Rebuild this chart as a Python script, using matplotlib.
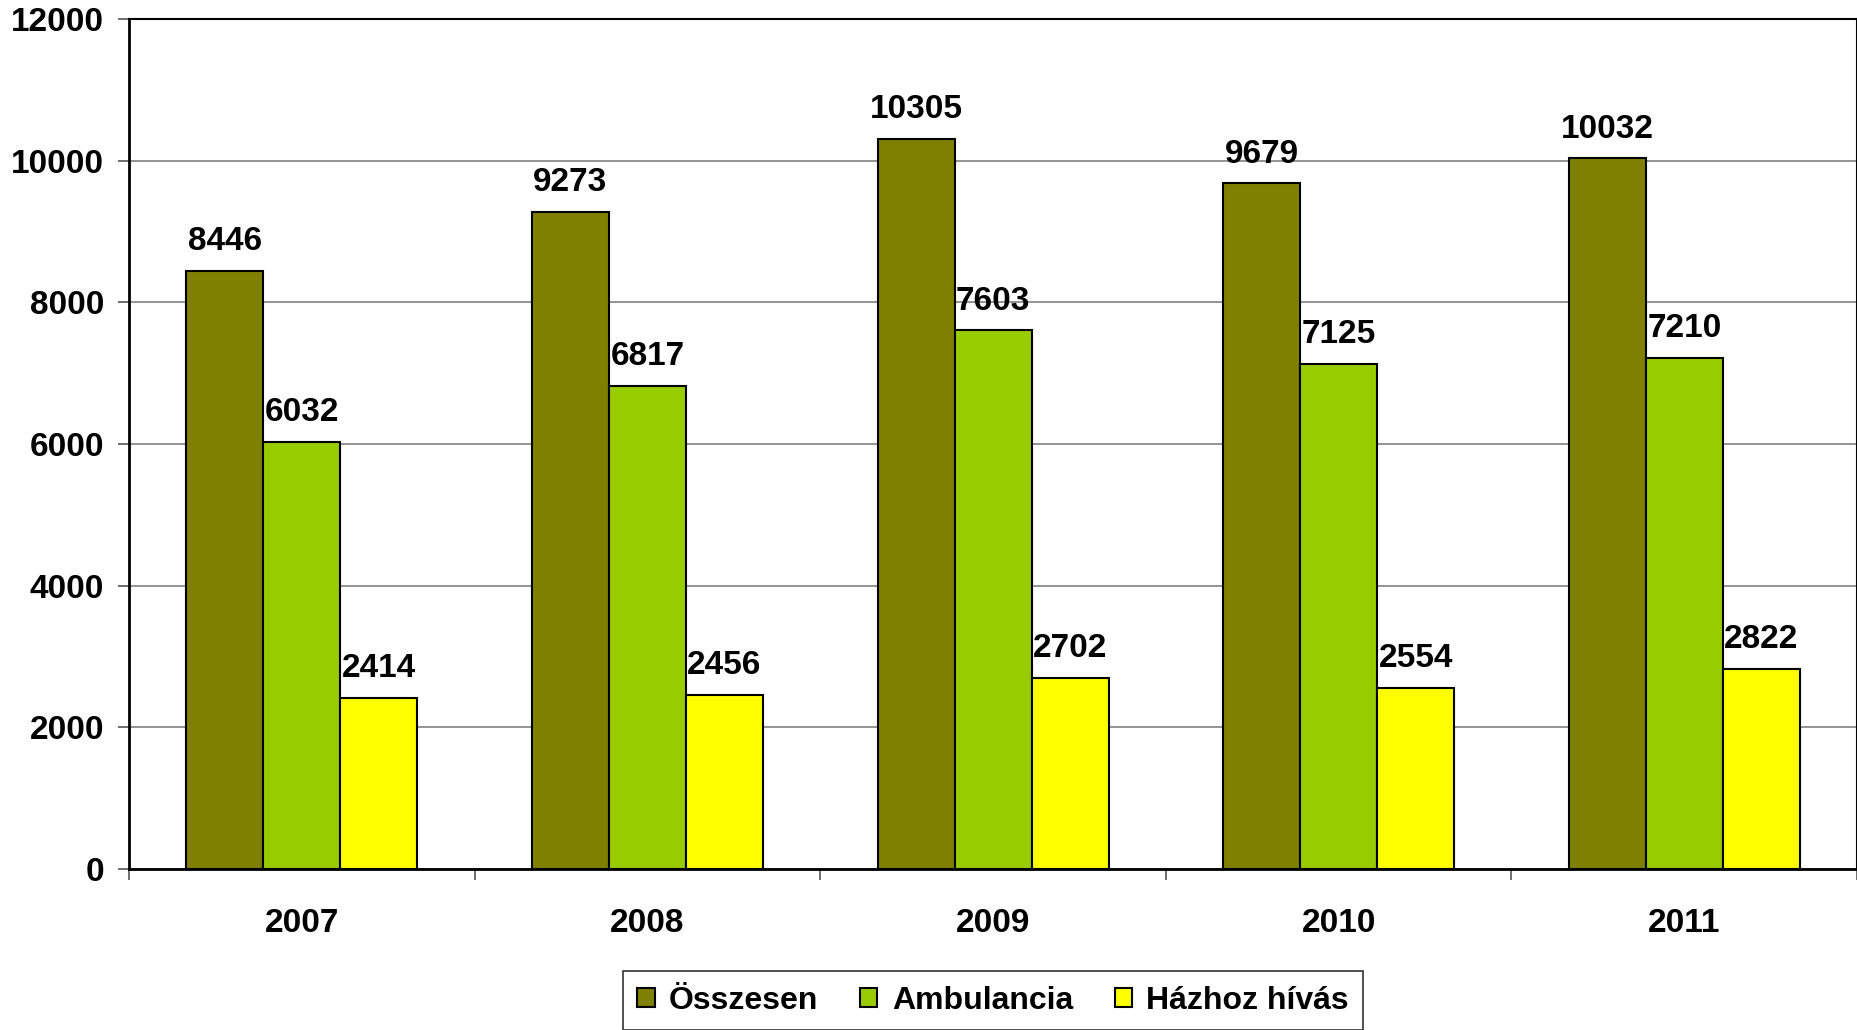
import matplotlib.pyplot as plt
import numpy as np

plt.rcParams["font.family"] = ["Liberation Sans", "DejaVu Sans"]
plt.rcParams["font.weight"] = "bold"

years = ["2007", "2008", "2009", "2010", "2011"]
series_names = ["Összesen", "Ambulancia", "Házhoz hívás"]
osszesen = [8446, 9273, 10305, 9679, 10032]
ambulancia = [6032, 6817, 7603, 7125, 7210]
hazhoz = [2414, 2456, 2702, 2554, 2822]
colors = ["#808000", "#99CC00", "#FFFF00"]

fig = plt.figure(figsize=(18.58, 10.30), dpi=100)
ax = fig.add_axes([0.0694, 0.1563, 0.9301, 0.8253])

x = np.arange(len(years))
width = 0.2228
for i, (vals, name, col) in enumerate(zip([osszesen, ambulancia, hazhoz], series_names, colors)):
    pos = x + (i - 1) * width
    ax.bar(pos, vals, width, color=col, edgecolor="black", linewidth=1.5,
           label=name, zorder=3)
    for px, v in zip(pos, vals):
        ax.annotate(str(v), (px, v), xytext=(0, 15), textcoords="offset points",
                    ha="center", va="baseline", fontsize=24, fontweight="bold")

ax.set_xlim(-0.5, len(years) - 0.5)
ax.set_ylim(0, 12000)
ax.set_yticks(np.arange(0, 12001, 2000))
ax.tick_params(axis="y", labelsize=24, length=8, width=1.2, pad=10, color="#555555")
ax.grid(axis="y", color="#808080", linewidth=1.2, zorder=0)

ax.set_xticks(x)
ax.set_xticklabels(years)
ax.tick_params(axis="x", which="major", length=0, labelsize=24, pad=28)
ax.set_xticks(np.arange(-0.5, len(years), 1.0), minor=True)
ax.tick_params(axis="x", which="minor", length=8, width=1.2, color="#555555")

for side in ["left", "bottom"]:
    ax.spines[side].set_linewidth(2)
for side in ["top", "right"]:
    ax.spines[side].set_linewidth(1.5)

leg = ax.legend(loc="center", bbox_to_anchor=(0.5, -0.155), ncol=3,
                fontsize=23, frameon=True, fancybox=False, edgecolor="black",
                handlelength=0.55, handleheight=0.55, handletextpad=0.45,
                columnspacing=1.3, borderpad=0.45)
leg.get_frame().set_linewidth(1.2)

fig.savefig("out.png", dpi=100)
